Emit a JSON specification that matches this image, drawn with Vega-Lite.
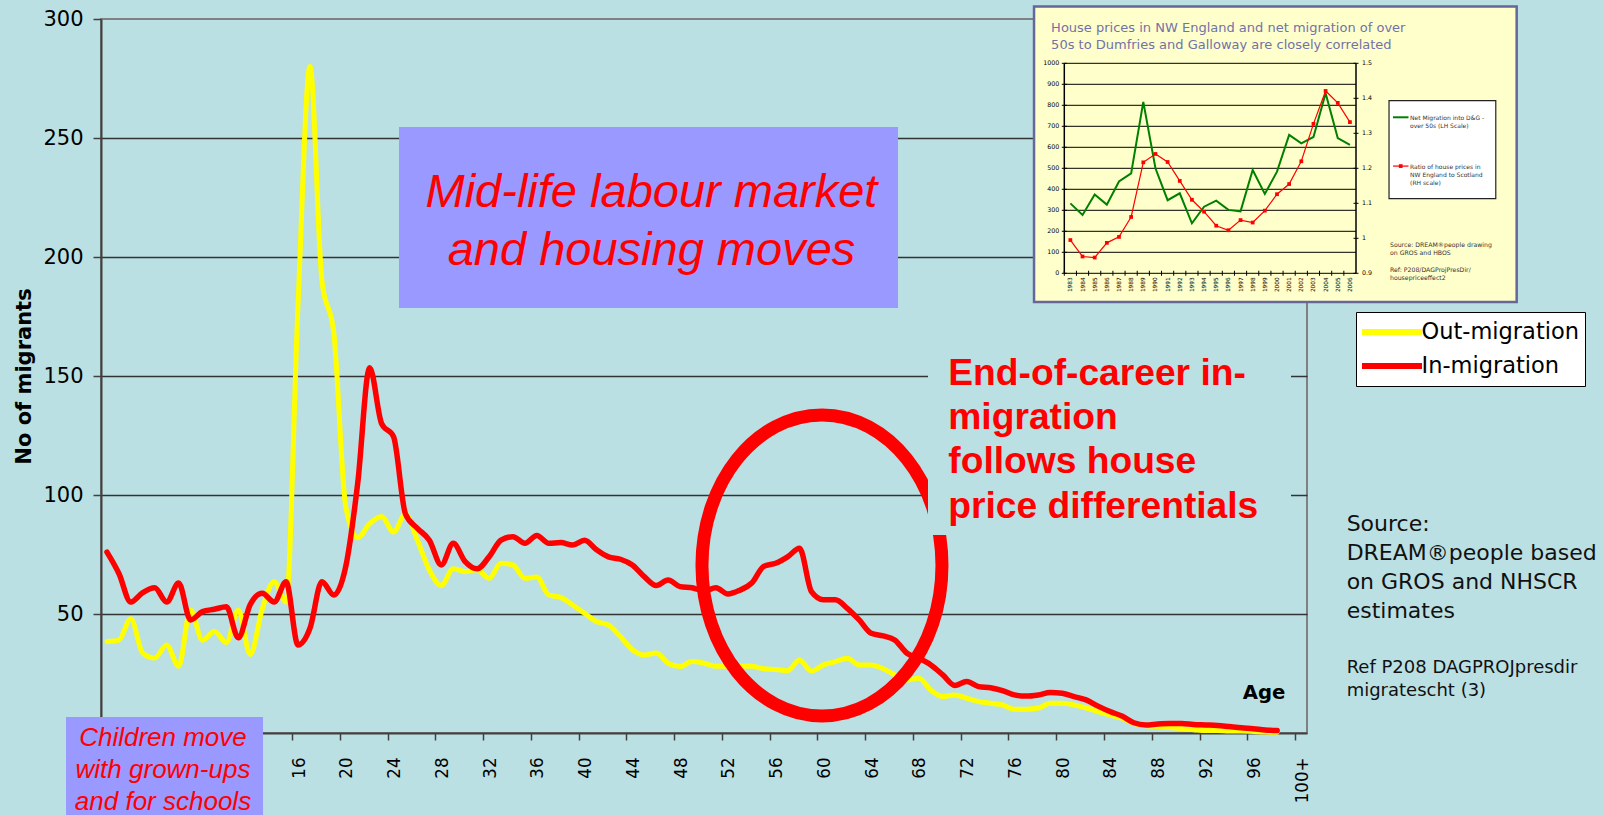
{
  "$schema": "https://vega.github.io/schema/vega-lite/v6.json",
  "width": 1206,
  "height": 714,
  "autosize": {"type": "none"},
  "padding": {"left": 101, "top": 19, "right": 297, "bottom": 82},
  "background": "#BBE0E3",
  "config": {"view": {"stroke": "#808080", "strokeWidth": 2}, "font": "DejaVu Sans"},
  "datasets": {
    "migration": [
      {"age": 0, "out_mig": 38.4, "in_mig": 76},
      {"age": 1, "out_mig": 39, "in_mig": 67},
      {"age": 2, "out_mig": 48, "in_mig": 55},
      {"age": 3, "out_mig": 33.5, "in_mig": 59},
      {"age": 4, "out_mig": 31.5, "in_mig": 61},
      {"age": 5, "out_mig": 37, "in_mig": 55},
      {"age": 6, "out_mig": 28, "in_mig": 63},
      {"age": 7, "out_mig": 51.7, "in_mig": 47.5},
      {"age": 8, "out_mig": 39, "in_mig": 51},
      {"age": 9, "out_mig": 42.6, "in_mig": 52},
      {"age": 10, "out_mig": 38, "in_mig": 53},
      {"age": 11, "out_mig": 51.7, "in_mig": 40},
      {"age": 12, "out_mig": 33, "in_mig": 54},
      {"age": 13, "out_mig": 52, "in_mig": 58.7},
      {"age": 14, "out_mig": 63.6, "in_mig": 55},
      {"age": 15, "out_mig": 55, "in_mig": 63.5},
      {"age": 16, "out_mig": 180, "in_mig": 37},
      {"age": 17, "out_mig": 280, "in_mig": 44},
      {"age": 18, "out_mig": 190, "in_mig": 63.6},
      {"age": 19, "out_mig": 168, "in_mig": 58},
      {"age": 20, "out_mig": 95, "in_mig": 70},
      {"age": 21, "out_mig": 82, "in_mig": 105},
      {"age": 22, "out_mig": 88, "in_mig": 153.5},
      {"age": 23, "out_mig": 91, "in_mig": 130},
      {"age": 24, "out_mig": 84.5, "in_mig": 124.5},
      {"age": 25, "out_mig": 92, "in_mig": 92},
      {"age": 26, "out_mig": 81, "in_mig": 86},
      {"age": 27, "out_mig": 68.5, "in_mig": 81},
      {"age": 28, "out_mig": 62, "in_mig": 70.6},
      {"age": 29, "out_mig": 69, "in_mig": 79.7},
      {"age": 30, "out_mig": 67.8, "in_mig": 72},
      {"age": 31, "out_mig": 68.6, "in_mig": 69},
      {"age": 32, "out_mig": 65, "in_mig": 74},
      {"age": 33, "out_mig": 71.3, "in_mig": 81},
      {"age": 34, "out_mig": 70.6, "in_mig": 82.5},
      {"age": 35, "out_mig": 65, "in_mig": 79.7},
      {"age": 36, "out_mig": 65.5, "in_mig": 83},
      {"age": 37, "out_mig": 58, "in_mig": 79.7},
      {"age": 38, "out_mig": 57, "in_mig": 80},
      {"age": 39, "out_mig": 53.8, "in_mig": 79},
      {"age": 40, "out_mig": 50.3, "in_mig": 81},
      {"age": 41, "out_mig": 46.8, "in_mig": 77},
      {"age": 42, "out_mig": 45.4, "in_mig": 74},
      {"age": 43, "out_mig": 40.5, "in_mig": 73},
      {"age": 44, "out_mig": 35, "in_mig": 70.6},
      {"age": 45, "out_mig": 32.8, "in_mig": 65.7},
      {"age": 46, "out_mig": 33.6, "in_mig": 62},
      {"age": 47, "out_mig": 29.3, "in_mig": 64.3},
      {"age": 48, "out_mig": 27.9, "in_mig": 61.5},
      {"age": 49, "out_mig": 30, "in_mig": 61},
      {"age": 50, "out_mig": 29.3, "in_mig": 59.7},
      {"age": 51, "out_mig": 28, "in_mig": 61},
      {"age": 52, "out_mig": 28, "in_mig": 58.4},
      {"age": 53, "out_mig": 28, "in_mig": 60},
      {"age": 54, "out_mig": 28, "in_mig": 63},
      {"age": 55, "out_mig": 27, "in_mig": 70},
      {"age": 56, "out_mig": 26.7, "in_mig": 71.3},
      {"age": 57, "out_mig": 26.2, "in_mig": 74},
      {"age": 58, "out_mig": 30.7, "in_mig": 77.6},
      {"age": 59, "out_mig": 26, "in_mig": 59.4},
      {"age": 60, "out_mig": 28.6, "in_mig": 56},
      {"age": 61, "out_mig": 30, "in_mig": 56},
      {"age": 62, "out_mig": 31.4, "in_mig": 52.4},
      {"age": 63, "out_mig": 28.6, "in_mig": 47.5},
      {"age": 64, "out_mig": 28.6, "in_mig": 41.9},
      {"age": 65, "out_mig": 27, "in_mig": 40.8},
      {"age": 66, "out_mig": 24.4, "in_mig": 39},
      {"age": 67, "out_mig": 22.3, "in_mig": 33.5},
      {"age": 68, "out_mig": 23, "in_mig": 31.4},
      {"age": 69, "out_mig": 18, "in_mig": 28.6},
      {"age": 70, "out_mig": 15.3, "in_mig": 24.4},
      {"age": 71, "out_mig": 16, "in_mig": 20},
      {"age": 72, "out_mig": 14.6, "in_mig": 21.6},
      {"age": 73, "out_mig": 13.2, "in_mig": 19.5},
      {"age": 74, "out_mig": 12.5, "in_mig": 19},
      {"age": 75, "out_mig": 11.8, "in_mig": 17.8},
      {"age": 76, "out_mig": 10, "in_mig": 16},
      {"age": 77, "out_mig": 10, "in_mig": 15.5},
      {"age": 78, "out_mig": 10.5, "in_mig": 16},
      {"age": 79, "out_mig": 12.5, "in_mig": 17},
      {"age": 80, "out_mig": 12.5, "in_mig": 16.7},
      {"age": 81, "out_mig": 11.8, "in_mig": 15.3},
      {"age": 82, "out_mig": 10.5, "in_mig": 13.9},
      {"age": 83, "out_mig": 9, "in_mig": 11.3},
      {"age": 84, "out_mig": 7.6, "in_mig": 9},
      {"age": 85, "out_mig": 6.2, "in_mig": 7.1},
      {"age": 86, "out_mig": 4, "in_mig": 4.3},
      {"age": 87, "out_mig": 3, "in_mig": 3.4},
      {"age": 88, "out_mig": 2.7, "in_mig": 3.8},
      {"age": 89, "out_mig": 2.3, "in_mig": 4},
      {"age": 90, "out_mig": 1.8, "in_mig": 4},
      {"age": 91, "out_mig": 1.4, "in_mig": 3.6},
      {"age": 92, "out_mig": 1, "in_mig": 3.4},
      {"age": 93, "out_mig": 1, "in_mig": 3.2},
      {"age": 94, "out_mig": 0.8, "in_mig": 2.7},
      {"age": 95, "out_mig": 0.8, "in_mig": 2.2},
      {"age": 96, "out_mig": 0.6, "in_mig": 1.8},
      {"age": 97, "out_mig": 0.4, "in_mig": 1.3},
      {"age": 98, "out_mig": 0.3, "in_mig": 1}
    ],
    "inset": [
      {"year": 1983, "net": 333, "ratio": 0.995},
      {"year": 1984, "net": 278, "ratio": 0.948},
      {"year": 1985, "net": 375, "ratio": 0.945},
      {"year": 1986, "net": 327, "ratio": 0.987},
      {"year": 1987, "net": 437, "ratio": 1.004},
      {"year": 1988, "net": 476, "ratio": 1.061},
      {"year": 1989, "net": 816, "ratio": 1.217},
      {"year": 1990, "net": 500, "ratio": 1.241},
      {"year": 1991, "net": 348, "ratio": 1.218},
      {"year": 1992, "net": 381, "ratio": 1.164},
      {"year": 1993, "net": 238, "ratio": 1.11},
      {"year": 1994, "net": 317, "ratio": 1.076},
      {"year": 1995, "net": 346, "ratio": 1.036},
      {"year": 1996, "net": 302, "ratio": 1.023},
      {"year": 1997, "net": 295, "ratio": 1.052},
      {"year": 1998, "net": 492, "ratio": 1.045},
      {"year": 1999, "net": 378, "ratio": 1.079},
      {"year": 2000, "net": 484, "ratio": 1.126},
      {"year": 2001, "net": 659, "ratio": 1.155},
      {"year": 2002, "net": 619, "ratio": 1.22},
      {"year": 2003, "net": 649, "ratio": 1.327},
      {"year": 2004, "net": 857, "ratio": 1.421},
      {"year": 2005, "net": 644, "ratio": 1.387},
      {"year": 2006, "net": 611, "ratio": 1.332}
    ],
    "gridL": [{"g": 0}, {"g": 100}, {"g": 200}, {"g": 300}, {"g": 400}, {"g": 500}, {"g": 600}, {"g": 700}, {"g": 800}, {"g": 900}, {"g": 1000}],
    "ticksR": [{"r": 0.9}, {"r": 1}, {"r": 1.1}, {"r": 1.2}, {"r": 1.3}, {"r": 1.4}, {"r": 1.5}]
  },
  "layer": [
    {
      "data": {"values": [{}]},
      "layer": [
        {
          "data": {"name": "migration"},
          "mark": {"type": "line", "interpolate": "monotone", "strokeWidth": 5, "strokeCap": "round", "strokeJoin": "round"},
          "encoding": {
            "x": {
              "field": "age", "type": "quantitative",
              "scale": {"domain": [-0.5, 100.5], "nice": false, "zero": false},
              "axis": {
                "title": null, "grid": false,
                "values": [-0.5,0.5,1.5,2.5,3.5,4.5,5.5,6.5,7.5,8.5,9.5,10.5,11.5,12.5,13.5,14.5,15.5,16.5,17.5,18.5,19.5,20.5,21.5,22.5,23.5,24.5,25.5,26.5,27.5,28.5,29.5,30.5,31.5,32.5,33.5,34.5,35.5,36.5,37.5,38.5,39.5,40.5,41.5,42.5,43.5,44.5,45.5,46.5,47.5,48.5,49.5,50.5,51.5,52.5,53.5,54.5,55.5,56.5,57.5,58.5,59.5,60.5,61.5,62.5,63.5,64.5,65.5,66.5,67.5,68.5,69.5,70.5,71.5,72.5,73.5,74.5,75.5,76.5,77.5,78.5,79.5,80.5,81.5,82.5,83.5,84.5,85.5,86.5,87.5,88.5,89.5,90.5,91.5,92.5,93.5,94.5,95.5,96.5,97.5,98.5,99.5,100.5],
                "labelExpr": "(datum.value + 0.5) % 4 == 0 && (datum.value + 0.5) >= 16 ? ((datum.value + 0.5) == 100 ? '100+' : '' + (datum.value + 0.5)) : ''",
                "labelOffset": 5.97,
                "labelAngle": 270,
                "labelAlign": "right",
                "labelBaseline": "middle",
                "labelFont": "DejaVu Sans Condensed, DejaVu Sans",
                "labelFontSize": 18.5,
                "labelColor": "#000000",
                "labelPadding": 17,
                "labelOverlap": false,
                "labelFlush": false,
                "tickSize": 7,
                "tickColor": "#404040",
                "tickWidth": 1.5,
                "domainColor": "#404040",
                "domainWidth": 2
              }
            },
            "y": {
              "field": "out_mig", "type": "quantitative",
              "scale": {"domain": [0, 300], "nice": false},
              "axis": {
                "title": "No of migrants",
                "titleFont": "DejaVu Sans", "titleFontSize": 21, "titleFontWeight": "bold", "titleColor": "#000000", "titlePadding": 8.5,
                "values": [0, 50, 100, 150, 200, 250, 300],
                "labelExpr": "datum.value == 0 ? '' : datum.label",
                "grid": true, "gridColor": "#333333", "gridWidth": 1.3,
                "gridOpacity": {"condition": {"test": "datum.value >= 300 || datum.value <= 0", "value": 0}, "value": 1},
                "labelFont": "DejaVu Sans", "labelFontSize": 21, "labelColor": "#000000", "labelPadding": 10,
                "tickSize": 8, "tickColor": "#404040", "tickWidth": 1.5,
                "domainColor": "#404040", "domainWidth": 2
              }
            },
            "color": {
              "datum": "Out-migration", "type": "nominal",
              "scale": {"domain": ["Out-migration", "In-migration"], "range": ["#FFFF00", "#FF0000"]},
              "legend": {
                "title": null, "orient": "none", "legendX": 1255, "legendY": 293,
                "symbolType": "stroke", "symbolSize": 3729, "symbolStrokeWidth": 6, "symbolOffset": -4.5,
                "clipHeight": 28,
                "labelFont": "DejaVu Sans", "labelFontSize": 22.5, "labelColor": "#000000", "labelOffset": -4,
                "strokeColor": "#000000", "fillColor": "#FFFFFF", "padding": 6, "rowPadding": 6
              }
            }
          }
        },
        {
          "data": {"name": "migration"},
          "mark": {"type": "line", "interpolate": "monotone", "strokeWidth": 5.5, "strokeCap": "round", "strokeJoin": "round"},
          "encoding": {
            "x": {"field": "age", "type": "quantitative"},
            "y": {"field": "in_mig", "type": "quantitative"},
            "color": {"datum": "In-migration", "type": "nominal"}
          }
        },
        {
          "mark": {"type": "rect", "color": "#9999FF"},
          "encoding": {
            "x": {"datum": 24.46, "type": "quantitative"}, "x2": {"datum": 66.25},
            "y": {"datum": 254.6, "type": "quantitative"}, "y2": {"datum": 178.6}
          }
        },
        {
          "mark": {"type": "text", "text": ["Mid-life labour market", "and housing moves"], "font": "Liberation Sans", "fontStyle": "italic", "fontSize": 47, "color": "#FF0000", "align": "center", "baseline": "alphabetic", "lineHeight": 58.5},
          "encoding": {"x": {"datum": 45.6, "type": "quantitative"}, "y": {"datum": 221.1, "type": "quantitative"}}
        },
        {
          "mark": {"type": "rect", "color": "#9999FF"},
          "encoding": {
            "x": {"datum": -3.43, "type": "quantitative"}, "x2": {"datum": 13.07},
            "y": {"datum": 6.72, "type": "quantitative"}, "y2": {"datum": -34.45}
          }
        },
        {
          "mark": {"type": "text", "text": ["Children move", "with grown-ups", "and for schools"], "font": "Liberation Sans", "fontStyle": "italic", "fontSize": 26, "color": "#FF0000", "align": "center", "baseline": "alphabetic", "lineHeight": 32},
          "encoding": {"x": {"datum": 4.69, "type": "quantitative"}, "y": {"datum": -5.6, "type": "quantitative"}}
        },
        {
          "mark": {"type": "point", "shape": "M -1 0 A 1 1.2542 0 1 1 1 0 A 1 1.2542 0 1 1 -1 0 Z", "size": 57600, "filled": false, "color": "#FF0000", "strokeWidth": 13, "opacity": 1},
          "encoding": {"x": {"datum": 59.88, "type": "quantitative"}, "y": {"datum": 70.4, "type": "quantitative"}}
        },
        {
          "mark": {"type": "rect", "color": "#BBE0E3"},
          "encoding": {
            "x": {"datum": 68.76, "type": "quantitative"}, "x2": {"datum": 99.16},
            "y": {"datum": 163, "type": "quantitative"}, "y2": {"datum": 83.2}
          }
        },
        {
          "mark": {"type": "text", "text": ["End-of-career in-", "migration", "follows house", "price differentials"], "font": "Liberation Sans", "fontWeight": "bold", "fontSize": 37.2, "color": "#FF0000", "align": "left", "baseline": "alphabetic", "lineHeight": 44.2},
          "encoding": {"x": {"datum": 70.46, "type": "quantitative"}, "y": {"datum": 146.2, "type": "quantitative"}}
        },
        {
          "mark": {"type": "text", "text": "Age", "font": "DejaVu Sans", "fontWeight": "bold", "fontSize": 19.7, "color": "#000000", "align": "center", "baseline": "alphabetic"},
          "encoding": {"x": {"datum": 96.9, "type": "quantitative"}, "y": {"datum": 14.3, "type": "quantitative"}}
        },
        {
          "mark": {"type": "text", "text": ["Source:", "DREAM®people based", "on GROS and NHSCR", "estimates"], "font": "DejaVu Sans", "fontSize": 22, "color": "#111111", "align": "left", "baseline": "alphabetic", "lineHeight": 29.2},
          "encoding": {"x": {"datum": 103.82, "type": "quantitative"}, "y": {"datum": 85.0, "type": "quantitative"}}
        },
        {
          "mark": {"type": "text", "text": ["Ref P208 DAGPROJpresdir", "migratescht (3)"], "font": "DejaVu Sans", "fontSize": 18, "color": "#111111", "align": "left", "baseline": "alphabetic", "lineHeight": 23},
          "encoding": {"x": {"datum": 103.82, "type": "quantitative"}, "y": {"datum": 25.1, "type": "quantitative"}}
        },
        {
          "mark": {"type": "rect", "fill": "#FFFFCC", "stroke": "#666699", "strokeWidth": 2.5},
          "encoding": {
            "x": {"datum": 77.64, "type": "quantitative"}, "x2": {"datum": 118.06},
            "y": {"datum": 305.2, "type": "quantitative"}, "y2": {"datum": 181.1}
          }
        },
        {
          "mark": {"type": "text", "text": ["House prices in NW England and net migration of over", "50s to Dumfries and Galloway are closely correlated"], "font": "DejaVu Sans", "fontSize": 13, "color": "#7272A8", "align": "left", "baseline": "alphabetic", "lineHeight": 16.7},
          "encoding": {"x": {"datum": 79.07, "type": "quantitative"}, "y": {"datum": 294.4, "type": "quantitative"}}
        },
        {
          "mark": {"type": "rect", "fill": "#FFFFFF", "stroke": "#222222", "strokeWidth": 1.2},
          "encoding": {
            "x": {"datum": 107.37, "type": "quantitative"}, "x2": {"datum": 116.31},
            "y": {"datum": 265.67, "type": "quantitative"}, "y2": {"datum": 224.5}
          }
        },
        {
          "mark": {"type": "rule", "color": "#008000", "strokeWidth": 2},
          "encoding": {"x": {"datum": 107.7, "type": "quantitative"}, "x2": {"datum": 109.0}, "y": {"datum": 258.7, "type": "quantitative"}}
        },
        {
          "mark": {"type": "rule", "color": "#FF0000", "strokeWidth": 1.2},
          "encoding": {"x": {"datum": 107.7, "type": "quantitative"}, "x2": {"datum": 109.0}, "y": {"datum": 238.2, "type": "quantitative"}}
        },
        {
          "mark": {"type": "point", "shape": "square", "filled": true, "color": "#FF0000", "size": 14, "opacity": 1},
          "encoding": {"x": {"datum": 108.35, "type": "quantitative"}, "y": {"datum": 238.2, "type": "quantitative"}}
        },
        {
          "mark": {"type": "text", "text": ["Net Migration into D&G -", "over 50s (LH Scale)"], "font": "DejaVu Sans", "fontSize": 6, "color": "#333333", "align": "left", "baseline": "alphabetic", "lineHeight": 8},
          "encoding": {"x": {"datum": 109.13, "type": "quantitative"}, "y": {"datum": 257.7, "type": "quantitative"}}
        },
        {
          "mark": {"type": "text", "text": ["Ratio of house prices in", "NW England to Scotland", "(RH scale)"], "font": "DejaVu Sans", "fontSize": 6, "color": "#333333", "align": "left", "baseline": "alphabetic", "lineHeight": 8},
          "encoding": {"x": {"datum": 109.13, "type": "quantitative"}, "y": {"datum": 237.1, "type": "quantitative"}}
        },
        {
          "mark": {"type": "text", "text": ["Source:  DREAM®people drawing", "on GROS and HBOS"], "font": "DejaVu Sans", "fontSize": 6.2, "color": "#333333", "align": "left", "baseline": "alphabetic", "lineHeight": 8.3},
          "encoding": {"x": {"datum": 107.45, "type": "quantitative"}, "y": {"datum": 204.2, "type": "quantitative"}}
        },
        {
          "mark": {"type": "text", "text": ["Ref:  P208/DAGProjPresDir/", "housepriceeffect2"], "font": "DejaVu Sans", "fontSize": 6.2, "color": "#333333", "align": "left", "baseline": "alphabetic", "lineHeight": 8.3},
          "encoding": {"x": {"datum": 107.45, "type": "quantitative"}, "y": {"datum": 193.7, "type": "quantitative"}}
        }
      ]
    },
    {
      "data": {"name": "inset"},
      "layer": [
        {
          "layer": [
            {
              "data": {"name": "gridL"},
              "mark": {"type": "rule", "color": "#000000", "strokeWidth": 1},
              "encoding": {
                "x": {"datum": 1982.5, "type": "quantitative", "scale": {"domain": [1982.5, 2006.5], "range": [963.3, 1255], "nice": false, "zero": false}, "axis": null},
                "x2": {"datum": 2006.5},
                "y": {"field": "g", "type": "quantitative", "scale": {"domain": [0, 1000], "range": [254.3, 44.3], "nice": false, "zero": false}, "axis": null}
              }
            },
            {
              "data": {"name": "gridL"},
              "mark": {"type": "tick", "orient": "horizontal", "size": 5, "thickness": 1, "color": "#000000", "opacity": 1},
              "encoding": {
                "x": {"datum": 1982.5, "type": "quantitative"},
                "y": {"field": "g", "type": "quantitative"}
              }
            },
            {
              "data": {"name": "gridL"},
              "mark": {"type": "text", "font": "DejaVu Sans", "fontSize": 6.3, "color": "#000000", "align": "right", "baseline": "middle", "dx": -5},
              "encoding": {
                "x": {"datum": 1982.5, "type": "quantitative"},
                "y": {"field": "g", "type": "quantitative"},
                "text": {"field": "g", "type": "quantitative", "format": "d"}
              }
            },
            {
              "data": {"values": [{}]},
              "mark": {"type": "rule", "color": "#000000", "strokeWidth": 1.5},
              "encoding": {
                "x": {"datum": 1982.5, "type": "quantitative"},
                "y": {"datum": 0, "type": "quantitative"}, "y2": {"datum": 1000}
              }
            },
            {
              "data": {"values": [{}]},
              "mark": {"type": "rule", "color": "#000000", "strokeWidth": 1.5},
              "encoding": {
                "x": {"datum": 2006.5, "type": "quantitative"},
                "y": {"datum": 0, "type": "quantitative"}, "y2": {"datum": 1000}
              }
            },
            {
              "mark": {"type": "text", "font": "DejaVu Sans", "fontSize": 5.8, "color": "#000000", "align": "right", "baseline": "middle", "angle": 270, "dx": -4},
              "encoding": {
                "x": {"field": "year", "type": "quantitative"},
                "y": {"datum": 0, "type": "quantitative"},
                "text": {"field": "year", "type": "quantitative", "format": "d"}
              }
            },
            {
              "mark": {"type": "tick", "orient": "vertical", "size": 5, "thickness": 1, "color": "#000000", "opacity": 1, "xOffset": -6.08},
              "encoding": {
                "x": {"field": "year", "type": "quantitative"},
                "y": {"datum": 0, "type": "quantitative"}
              }
            },
            {
              "mark": {"type": "line", "color": "#008000", "strokeWidth": 2},
              "encoding": {
                "x": {"field": "year", "type": "quantitative"},
                "y": {"field": "net", "type": "quantitative"}
              }
            }
          ]
        },
        {
          "layer": [
            {
              "data": {"name": "ticksR"},
              "mark": {"type": "tick", "orient": "horizontal", "size": 5, "thickness": 1, "color": "#000000", "opacity": 1},
              "encoding": {
                "x": {"datum": 2006.5, "type": "quantitative"},
                "y": {"field": "r", "type": "quantitative", "scale": {"domain": [0.9, 1.5], "range": [254.3, 44.3], "nice": false, "zero": false}, "axis": null}
              }
            },
            {
              "data": {"name": "ticksR"},
              "mark": {"type": "text", "font": "DejaVu Sans", "fontSize": 6.3, "color": "#000000", "align": "left", "baseline": "middle", "dx": 6},
              "encoding": {
                "x": {"datum": 2006.5, "type": "quantitative"},
                "y": {"field": "r", "type": "quantitative"},
                "text": {"field": "r", "type": "quantitative"}
              }
            },
            {
              "mark": {"type": "line", "color": "#FF0000", "strokeWidth": 1.2},
              "encoding": {
                "x": {"field": "year", "type": "quantitative"},
                "y": {"field": "ratio", "type": "quantitative"}
              }
            },
            {
              "mark": {"type": "point", "shape": "square", "filled": true, "color": "#FF0000", "size": 14, "opacity": 1},
              "encoding": {
                "x": {"field": "year", "type": "quantitative"},
                "y": {"field": "ratio", "type": "quantitative"}
              }
            }
          ]
        }
      ],
      "resolve": {"scale": {"y": "independent"}}
    }
  ],
  "resolve": {"scale": {"x": "independent", "y": "independent"}}
}
